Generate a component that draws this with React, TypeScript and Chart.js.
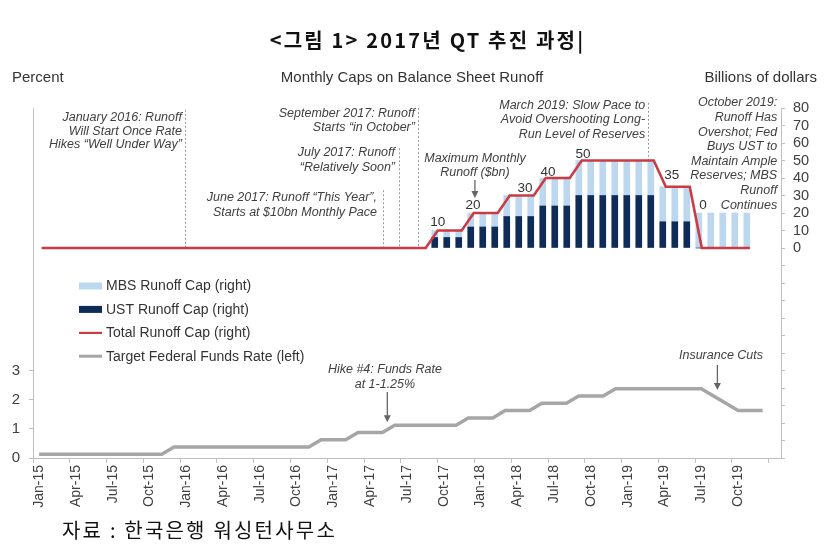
import React, { useEffect, useRef } from 'react';
import { Chart, registerables } from 'chart.js';

Chart.register(...registerables);

// ---------------- data ----------------
const monthLabels = [
  'Jan-15', 'Feb-15', 'Mar-15', 'Apr-15', 'May-15', 'Jun-15', 'Jul-15', 'Aug-15', 'Sep-15', 'Oct-15', 'Nov-15', 'Dec-15',
  'Jan-16', 'Feb-16', 'Mar-16', 'Apr-16', 'May-16', 'Jun-16', 'Jul-16', 'Aug-16', 'Sep-16', 'Oct-16', 'Nov-16', 'Dec-16',
  'Jan-17', 'Feb-17', 'Mar-17', 'Apr-17', 'May-17', 'Jun-17', 'Jul-17', 'Aug-17', 'Sep-17', 'Oct-17', 'Nov-17', 'Dec-17',
  'Jan-18', 'Feb-18', 'Mar-18', 'Apr-18', 'May-18', 'Jun-18', 'Jul-18', 'Aug-18', 'Sep-18', 'Oct-18', 'Nov-18', 'Dec-18',
  'Jan-19', 'Feb-19', 'Mar-19', 'Apr-19', 'May-19', 'Jun-19', 'Jul-19', 'Aug-19', 'Sep-19', 'Oct-19', 'Nov-19', 'Dec-19',
  'Jan-20',
];

// Target federal funds rate (mid-point, %), Jan-15 .. Dec-19
const fedFundsRate = [
  0.125, 0.125, 0.125, 0.125, 0.125, 0.125, 0.125, 0.125, 0.125, 0.125, 0.125, 0.375,
  0.375, 0.375, 0.375, 0.375, 0.375, 0.375, 0.375, 0.375, 0.375, 0.375, 0.375, 0.625,
  0.625, 0.625, 0.875, 0.875, 0.875, 1.125, 1.125, 1.125, 1.125, 1.125, 1.125, 1.375,
  1.375, 1.375, 1.625, 1.625, 1.625, 1.875, 1.875, 1.875, 2.125, 2.125, 2.125, 2.375,
  2.375, 2.375, 2.375, 2.375, 2.375, 2.375, 2.375, 2.125, 1.875, 1.625, 1.625, 1.625,
];

// Total runoff cap ($bn), Jan-15 .. Dec-19
const totalRunoffCap = [
  0, 0, 0, 0, 0, 0, 0, 0, 0, 0, 0, 0,
  0, 0, 0, 0, 0, 0, 0, 0, 0, 0, 0, 0,
  0, 0, 0, 0, 0, 0, 0, 0, 0, 10, 10, 10,
  20, 20, 20, 30, 30, 30, 40, 40, 40, 50, 50, 50,
  50, 50, 50, 50, 35, 35, 35, 0, 0, 0, 0, 0,
];

// Bars start in this month
const runoffStartMonth = 'Oct-17';
// UST runoff cap ($bn), Oct-17 .. Dec-19
const ustRunoffCap = [6, 6, 6, 12, 12, 12, 18, 18, 18, 24, 24, 24, 30, 30, 30, 30, 30, 30, 30, 15, 15, 15, 0, 0, 0, 0, 0];
// MBS runoff cap ($bn), Oct-17 .. Dec-19
const mbsRunoffCap = [4, 4, 4, 8, 8, 8, 12, 12, 12, 16, 16, 16, 20, 20, 20, 20, 20, 20, 20, 20, 20, 20, 20, 20, 20, 20, 20];

const seriesLabels = [
  'MBS Runoff Cap (right)',
  'UST Runoff Cap (right)',
  'Total Runoff Cap (right)',
  'Target Federal Funds Rate (left)',
];

const valueLabelTexts = ['10', '20', '30', '40', '50', '35', '0'];

// ---------------- styles / annotation layout ----------------
const LIGHT = '#BDD7EE';
const NAVY = '#0E2C56';
const RED = '#CC3A44';
const GRAY = '#A6A6A6';
const AXIS = '#BFBFBF';
const TEXT = '#404040';
const FONT = '"Liberation Sans", Arial, sans-serif';

// positions in scale units (x2 = month index, yR = $bn, yL = %)
const valueLabelPos = [
  { x: 33.0, y: 14.9 },
  { x: 35.94, y: 24.6 },
  { x: 40.27, y: 34.3 },
  { x: 42.19, y: 43.4 },
  { x: 45.1, y: 53.7 },
  { x: 52.5, y: 41.7 },
  { x: 55.1, y: 24.6 },
];

const guideLines = [
  { x: 11.94, top: 79 },
  { x: 28.44, top: 33 },
  { x: 29.78, top: 57 },
  { x: 31.36, top: 80 },
  { x: 50.5, top: 83 },
];

const topNotes = [
  { x: 11.69, y: 74.3, align: 'right', lh: 13.3, lines: ['January 2016: Runoff', 'Will Start Once Rate', 'Hikes \u201cWell Under Way\u201d'] },
  { x: 31.1, y: 77.1, align: 'right', lh: 14, lines: ['September 2017: Runoff', 'Starts \u201cin October\u201d'] },
  { x: 29.44, y: 54.3, align: 'right', lh: 15, lines: ['July 2017: Runoff', '\u201cRelatively Soon\u201d'] },
  { x: 27.94, y: 29.1, align: 'right', lh: 15, lines: ['June 2017: Runoff \u201cThis Year\u201d,', 'Starts at $10bn Monthly Pace'] },
  { x: 36.1, y: 51.4, align: 'center', lh: 14, lines: ['Maximum Monthly', 'Runoff ($bn)'] },
  { x: 50.28, y: 81.7, align: 'right', lh: 14.5, lines: ['March 2019: Slow Pace to', 'Avoid Overshooting Long-', 'Run Level of Reserves'] },
  { x: 61.28, y: 82.9, align: 'right', lh: 14.6, lines: ['October 2019:', 'Runoff Has', 'Overshot; Fed', 'Buys UST to', 'Maintain Ample', 'Reserves; MBS', 'Runoff', 'Continues'] },
];

const bottomNotes = [
  { x: 28.6, y: 3.05, align: 'center', lh: 15, lines: ['Hike #4: Funds Rate', 'at 1-1.25%'] },
  { x: 56.6, y: 3.53, align: 'center', lh: 15, lines: ['Insurance Cuts'] },
];

const topArrows = [{ x: 36.1, from: 38.9, to: 28.6 }];
const bottomArrows = [
  { x: 28.8, from: 2.26, to: 1.23 },
  { x: 56.3, from: 3.19, to: 2.33 },
];

function drawArrow(ctx: CanvasRenderingContext2D, x: number, y1: number, y2: number) {
  ctx.save();
  ctx.strokeStyle = '#666';
  ctx.fillStyle = '#666';
  ctx.lineWidth = 1.3;
  ctx.beginPath();
  ctx.moveTo(x, y1);
  ctx.lineTo(x, y2 - 5);
  ctx.stroke();
  ctx.beginPath();
  ctx.moveTo(x - 3.5, y2 - 7);
  ctx.lineTo(x + 3.5, y2 - 7);
  ctx.lineTo(x, y2);
  ctx.closePath();
  ctx.fill();
  ctx.restore();
}

function drawNote(ctx: CanvasRenderingContext2D, n: any, px: number, py: number) {
  ctx.textAlign = n.align;
  n.lines.forEach((t: string, i: number) => ctx.fillText(t, px, py + i * n.lh));
}

const annotationPlugin = {
  id: 'qtAnnotations',
  beforeDatasetsDraw(chart: any) {
    const { ctx } = chart;
    const x2 = chart.scales.x2;
    const yR = chart.scales.yR;
    ctx.save();
    ctx.strokeStyle = '#9A9A9A';
    ctx.lineWidth = 1;
    ctx.setLineDash([2, 2]);
    guideLines.forEach((g) => {
      const px = Math.round(x2.getPixelForValue(g.x)) + 0.5;
      ctx.beginPath();
      ctx.moveTo(px, yR.getPixelForValue(g.top));
      ctx.lineTo(px, yR.getPixelForValue(0));
      ctx.stroke();
    });
    ctx.restore();
  },
  afterDatasetsDraw(chart: any) {
    const { ctx, chartArea } = chart;
    const x2 = chart.scales.x2;
    const yR = chart.scales.yR;
    const yL = chart.scales.yL;
    ctx.save();
    ctx.textBaseline = 'middle';

    // italic notes
    ctx.fillStyle = TEXT;
    ctx.font = `italic 12.5px ${FONT}`;
    topNotes.forEach((n) => drawNote(ctx, n, x2.getPixelForValue(n.x), yR.getPixelForValue(n.y)));
    bottomNotes.forEach((n) => drawNote(ctx, n, x2.getPixelForValue(n.x), yL.getPixelForValue(n.y)));

    topArrows.forEach((a) => drawArrow(ctx, x2.getPixelForValue(a.x), yR.getPixelForValue(a.from), yR.getPixelForValue(a.to)));
    bottomArrows.forEach((a) => drawArrow(ctx, x2.getPixelForValue(a.x), yL.getPixelForValue(a.from), yL.getPixelForValue(a.to)));

    // value labels
    ctx.fillStyle = '#333';
    ctx.font = `13.5px ${FONT}`;
    ctx.textAlign = 'center';
    valueLabelTexts.forEach((t, i) => {
      const p = valueLabelPos[i];
      ctx.fillText(t, x2.getPixelForValue(p.x), yR.getPixelForValue(p.y));
    });

    // legend
    const lx = chartArea.left + 46;
    const ly = chartArea.top + 178;
    const gap = 23.4;
    ctx.font = `14px ${FONT}`;
    ctx.textAlign = 'left';
    seriesLabels.forEach((lab, i) => {
      const y = ly + i * gap;
      if (i === 0) { ctx.fillStyle = LIGHT; ctx.fillRect(lx, y - 3.5, 23, 7); }
      if (i === 1) { ctx.fillStyle = NAVY; ctx.fillRect(lx, y - 3.5, 23, 7); }
      if (i === 2) { ctx.fillStyle = RED; ctx.fillRect(lx, y - 1, 23, 2.2); }
      if (i === 3) { ctx.fillStyle = GRAY; ctx.fillRect(lx, y - 1.5, 23, 3); }
      ctx.fillStyle = '#333';
      ctx.fillText(lab, lx + 27, y + 0.5);
    });

    // axis titles
    ctx.font = `15px ${FONT}`;
    ctx.fillStyle = '#333';
    ctx.textAlign = 'left';
    ctx.fillText('Percent', 12, 78);
    ctx.textAlign = 'center';
    ctx.fillText('Monthly Caps on Balance Sheet Runoff', 412, 78);
    ctx.textAlign = 'right';
    ctx.fillText('Billions of dollars', 817, 78);
    ctx.restore();
  },
};

export default function App() {
  const ref = useRef<HTMLCanvasElement>(null);

  useEffect(() => {
    const canvas = ref.current;
    if (!canvas) return;
    const startIdx = monthLabels.indexOf(runoffStartMonth);
    const chart = new Chart(canvas, {
      type: 'bar',
      data: {
        labels: monthLabels,
        datasets: [
          {
            type: 'line',
            label: seriesLabels[2],
            data: totalRunoffCap.map((v, i) => ({ x: i, y: v })),
            xAxisID: 'x2',
            yAxisID: 'yR',
            borderColor: RED,
            backgroundColor: RED,
            borderWidth: 2.6,
            pointRadius: 0,
            tension: 0,
            fill: false,
            order: 0,
            stack: 'total',
          } as any,
          {
            type: 'bar',
            label: seriesLabels[1],
            data: ustRunoffCap.map((v, i) => ({ x: startIdx + i, y: v })),
            xAxisID: 'x2',
            yAxisID: 'yR',
            backgroundColor: NAVY,
            barThickness: 6,
            order: 2,
            stack: 'caps',
          } as any,
          {
            type: 'bar',
            label: seriesLabels[0],
            data: mbsRunoffCap.map((v, i) => ({ x: startIdx + i, y: v })),
            xAxisID: 'x2',
            yAxisID: 'yR',
            backgroundColor: LIGHT,
            barThickness: 6,
            order: 2,
            stack: 'caps',
          } as any,
          {
            type: 'line',
            label: seriesLabels[3],
            data: fedFundsRate,
            xAxisID: 'x',
            yAxisID: 'yL',
            borderColor: GRAY,
            backgroundColor: GRAY,
            borderWidth: 3.5,
            pointRadius: 0,
            tension: 0,
            fill: false,
            order: 1,
          } as any,
        ],
      },
      options: {
        responsive: false,
        animation: false,
        events: [],
        layout: { padding: { top: 108, left: 0, right: 0, bottom: 0 } },
        plugins: {
          legend: { display: false },
          tooltip: { enabled: false },
          title: { display: false },
        },
        scales: {
          x: {
            type: 'category',
            position: 'bottom',
            offset: true,
            grid: {
              offset: true,
              drawOnChartArea: false,
              drawTicks: true,
              tickLength: 5,
              color: (c: any) => (typeof c.index === 'number' && c.index % 3 === 0 ? AXIS : 'rgba(0,0,0,0)'),
            },
            border: { color: AXIS, width: 1 },
            ticks: {
              autoSkip: false,
              minRotation: 90,
              maxRotation: 90,
              padding: 2,
              color: TEXT,
              font: { family: FONT, size: 14 },
              callback: (_v: any, i: number) => (i % 3 === 0 && i <= 57 ? monthLabels[i] : ''),
            },
            afterFit: (s: any) => { s.height = 86; },
          },
          x2: {
            type: 'linear',
            display: false,
            offset: false,
            grid: { offset: false },
            min: -0.72,
            max: 61.6,
          },
          yL: {
            type: 'linear',
            position: 'left',
            min: 0,
            max: 12,
            grid: { drawOnChartArea: false, drawTicks: true, tickLength: 4, color: AXIS },
            border: { color: AXIS, width: 1 },
            ticks: {
              stepSize: 1,
              padding: 9,
              color: TEXT,
              font: { family: FONT, size: 15 },
            },
            afterBuildTicks: (s: any) => { s.ticks = s.ticks.filter((t: any) => t.value <= 3); },
            afterFit: (s: any) => { s.width = 33; },
          },
          yR: {
            type: 'linear',
            position: 'right',
            stacked: true,
            min: -120,
            max: 80,
            grid: { drawOnChartArea: false, drawTicks: true, tickLength: 4, color: AXIS },
            border: { color: AXIS, width: 1 },
            ticks: {
              stepSize: 10,
              autoSkip: false,
              padding: 8,
              color: TEXT,
              font: { family: FONT, size: 14.5 },
              callback: (v: any) => (v >= 0 ? String(v) : ''),
            },
            afterFit: (s: any) => { s.width = 50; },
          },
        },
      } as any,
      plugins: [annotationPlugin],
    });
    return () => chart.destroy();
  }, []);

  return (
    <div style={{ position: 'fixed', left: 0, top: 0, width: 831, height: 544, background: '#fff' }}>
      <canvas ref={ref} width={831} height={544} style={{ position: 'absolute', left: 0, top: 0 }} />
      <div
        style={{
          position: 'absolute', left: 0, top: 27, width: 831, paddingLeft: 24, boxSizing: 'border-box',
          textAlign: 'center', fontFamily: '"Noto Sans CJK KR", sans-serif', fontWeight: 700,
          fontSize: 20, lineHeight: '26px', color: '#111', letterSpacing: 2.2,
        }}
      >
        {'<그림 1> 2017년 QT 추진 과정|'}
      </div>
      <div
        style={{
          position: 'absolute', left: 62, top: 517, fontFamily: '"Noto Sans CJK KR", sans-serif',
          fontSize: 20, lineHeight: '26px', color: '#111', letterSpacing: 2.2, whiteSpace: 'pre',
        }}
      >
        {'자료 : 한국은행 워싱턴사무소'}
      </div>
    </div>
  );
}
